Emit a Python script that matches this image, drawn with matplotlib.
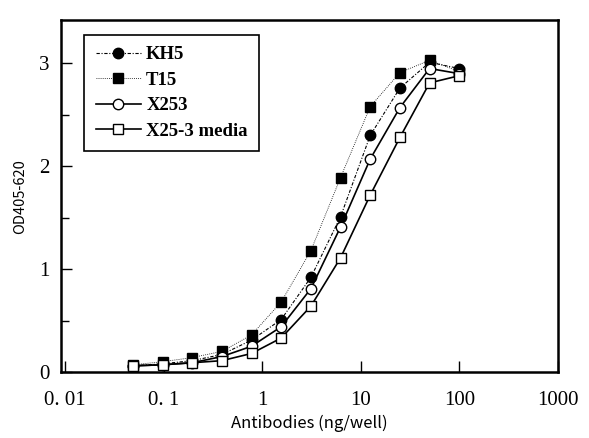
import matplotlib
matplotlib.use("Agg")
import matplotlib.pyplot as plt
from matplotlib.ticker import FixedLocator, MultipleLocator

# Data (twofold dilutions, ng/well)
antibody_ng = [0.049, 0.098, 0.195, 0.39, 0.78, 1.56, 3.125, 6.25, 12.5, 25, 50, 100]
kh5 = [0.06, 0.08, 0.11, 0.17, 0.31, 0.51, 0.92, 1.51, 2.30, 2.76, 3.01, 2.95]
t15 = [0.07, 0.10, 0.14, 0.20, 0.36, 0.68, 1.18, 1.89, 2.58, 2.91, 3.03, 2.92]
x253 = [0.06, 0.07, 0.09, 0.15, 0.25, 0.44, 0.81, 1.41, 2.07, 2.57, 2.95, 2.90]
x253_media = [0.06, 0.07, 0.09, 0.11, 0.18, 0.33, 0.64, 1.11, 1.72, 2.28, 2.81, 2.88]

xtick_vals = [0.01, 0.1, 1, 10, 100, 1000]
xtick_labels = ["0. 01", "0. 1", "1", "10", "100", "1000"]
ytick_vals = [0, 1, 2, 3]

fig = plt.figure(figsize=(5.89, 4.38), dpi=100)
ax = fig.add_axes([0.1036, 0.1507, 0.8434, 0.8033])

serif = "Liberation Serif"
mono = ["Noto Sans CJK JP", "DejaVu Sans"]

ax.plot(antibody_ng, kh5, color="black", lw=0.8, ls=(0, (3, 1.5, 1, 1.5)),
        marker="o", ms=7.5, mfc="black", mec="black", label="KH5")
ax.plot(antibody_ng, t15, color="black", lw=0.6, ls=(0, (1, 1.5)),
        marker="s", ms=7, mfc="black", mec="black", label="T15")
ax.plot(antibody_ng, x253, color="black", lw=1.2, ls="-",
        marker="o", ms=7.5, mfc="white", mec="black", mew=1.0, label="X253")
ax.plot(antibody_ng, x253_media, color="black", lw=1.2, ls="-",
        marker="s", ms=7, mfc="white", mec="black", mew=1.0, label="X25-3 media")

ax.set_xscale("log")
ax.set_xlim(0.0091, 1000)
ax.set_ylim(0, 3.42)

ax.xaxis.set_major_locator(FixedLocator(xtick_vals))
ax.xaxis.set_minor_locator(FixedLocator([]))
ax.set_xticklabels(xtick_labels, fontfamily=serif, fontsize=15)
ax.set_yticks(ytick_vals)
ax.set_yticklabels([str(v) for v in ytick_vals], fontfamily=serif, fontsize=15)
ax.yaxis.set_minor_locator(MultipleLocator(0.5))

ax.tick_params(axis="both", which="major", direction="in", length=8, width=1.0)
ax.tick_params(axis="both", which="minor", direction="in", length=6, width=1.0)
ax.tick_params(axis="x", which="major", pad=14)
ax.tick_params(axis="y", which="major", pad=8)
ax.tick_params(axis="y", which="both", left=True, right=False)
ax.tick_params(axis="x", which="both", bottom=True, top=False)

for s in ax.spines.values():
    s.set_linewidth(1.8)

ax.set_xlabel("Antibodies (ng/well)", fontfamily=mono, fontsize=12, labelpad=3)
ax.set_ylabel("OD405-620", fontfamily=mono, fontsize=10.5, labelpad=9)

leg = ax.legend(loc="upper left", bbox_to_anchor=(0.028, 0.985), frameon=True,
                fancybox=False, edgecolor="black", framealpha=1,
                prop={"family": serif, "weight": "bold", "size": 13.5},
                handlelength=2.4, borderpad=0.6, labelspacing=0.45, handletextpad=0.3)
leg.get_frame().set_linewidth(1.2)

fig.savefig("out.png", dpi=100)
